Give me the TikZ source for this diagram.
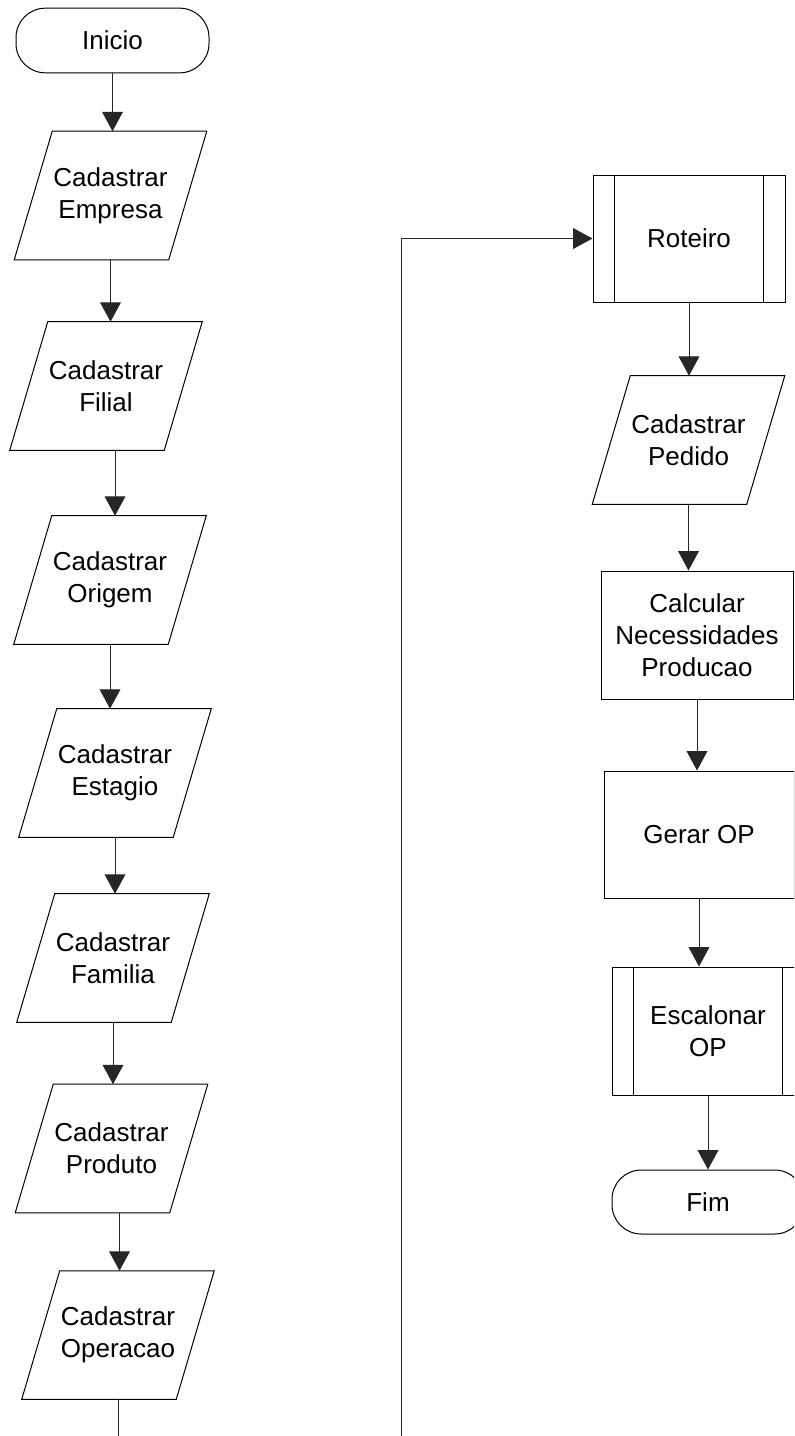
\documentclass[tikz,border=0pt]{standalone}
\usepackage{fontspec}
\setmainfont{Liberation Sans}
\usetikzlibrary{arrows.meta,calc}
\begin{document}
\begin{tikzpicture}[x=0.75pt,y=-0.75pt,
  every node/.style={font=\fontsize{19.5}{24}\selectfont, align=center, inner sep=0pt},
  shapeline/.style={draw=black, line width=0.75pt},
  terminal/.style={shapeline, rectangle, rounded corners=22pt, minimum width=144.75pt, minimum height=48.5pt},
  iobox/.style={rectangle, minimum width=144pt, minimum height=96pt},
  procbox/.style={shapeline, rectangle, minimum width=144pt, minimum height=96pt},
  arrowline/.style={draw=black!85, line width=0.75pt, -{Triangle[width=15.5pt,length=14.5pt]}},
  plainline/.style={draw=black!85, line width=0.75pt},
]
\path[use as bounding box] (0,0) rectangle (794,1436);
\clip (0,0) rectangle (794,1436);

% left column
\node[terminal] (ini) at (112.5,40.5) {Inicio};
\node[iobox] (emp) at (110.5,195.5) {Cadastrar\\Empresa};
\node[iobox] (fil) at (106,386) {Cadastrar\\Filial};
\node[iobox] (ori) at (110,580) {Cadastrar\\Origem};
\node[iobox] (est) at (115,773) {Cadastrar\\Estagio};
\node[iobox] (fam) at (113,958) {Cadastrar\\Familia};
\node[iobox] (pro) at (111.5,1148.5) {Cadastrar\\Produto};
\node[iobox] (ope) at (118,1335) {Cadastrar\\Operacao};

% right column
\node[procbox, minimum height=95.25pt] (rot) at (689,238.5) {Roteiro};
\node[iobox] (ped) at (688.5,440) {Cadastrar\\Pedido};
\node[procbox] (cal) at (697,635) {Calcular\\Necessidades\\Producao};
\node[procbox, minimum width=142.5pt, minimum height=95.25pt] (ger) at (699,834.5) {Gerar OP};
\node[procbox] (esc) at (708,1031) {Escalonar\\OP};
\node[terminal, minimum width=144pt, minimum height=48pt] (fim) at (708,1202) {Fim};

% data (parallelogram) outlines
\foreach \n in {emp,fil,ori,est,fam,pro,ope,ped}
  \draw[shapeline] ($(\n.north west)+(38,0)$) -- (\n.north east)
     -- ($(\n.south east)+(-38,0)$) -- (\n.south west) -- cycle;

% predefined process side bars
\foreach \n in {rot,esc}{
  \draw[shapeline] ($(\n.north west)+(22,0)$) -- ($(\n.south west)+(22,0)$);
  \draw[shapeline] ($(\n.north east)+(-22,0)$) -- ($(\n.south east)+(-22,0)$);
}

% connectors
\draw[arrowline] (ini.south) -- (ini.south |- emp.north);
\draw[arrowline] (emp.south) -- (emp.south |- fil.north);
\draw[arrowline] ([xshift=6.75pt]fil.south) -- ([xshift=6.75pt]fil.south |- ori.north);
\draw[arrowline] (ori.south) -- (ori.south |- est.north);
\draw[arrowline] (est.south) -- (est.south |- fam.north);
\draw[arrowline] (fam.south) -- (fam.south |- pro.north);
\draw[arrowline] ([xshift=6pt]pro.south) -- ([xshift=6pt]pro.south |- ope.north);
\coordinate (opefoot) at (118,1440);
\draw[plainline] (ope.south) -- (ope.south |- opefoot);

\coordinate (loopfoot) at (401,1440);
\draw[arrowline] (loopfoot) |- (rot.west);

\draw[arrowline] (rot.south) -- (rot.south |- ped.north);
\draw[arrowline] (ped.south) -- (ped.south |- cal.north);
\draw[arrowline] (cal.south) -- (cal.south |- ger.north);
\draw[arrowline] (ger.south) -- (ger.south |- esc.north);
\draw[arrowline] (esc.south) -- (esc.south |- fim.north);
\end{tikzpicture}
\end{document}
